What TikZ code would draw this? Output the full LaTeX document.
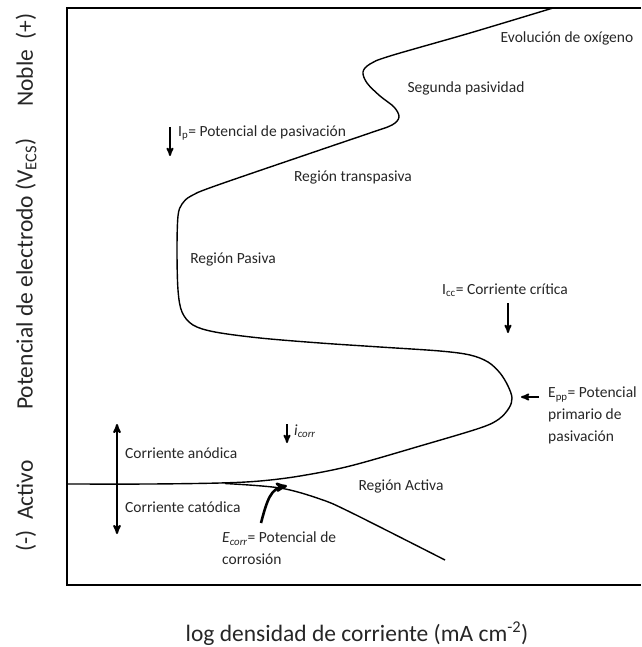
\documentclass[tikz,border=0pt]{standalone}
\usepackage{fontspec}
\setmainfont{Carlito}
\usepackage{tikz}
\usetikzlibrary{arrows,positioning}
\newcommand{\idx}[1]{\textsubscript{#1}}

\begin{document}
\begin{tikzpicture}[x=1pt,y=-1pt,>=stealth',inner sep=0pt]
  \tikzstyle{lbl}=[font=\fontsize{15.5}{22}\selectfont,text=black!85]
  \tikzstyle{axislbl}=[font=\fontsize{23.5}{28}\selectfont,text=black!85]
  \tikzstyle{curve}=[line width=1.4pt]
  \tikzstyle{pointer}=[->,line width=1.8pt]

  \useasboundingbox (0,0) rectangle (641,647);

  % Frame.
  \draw [line width=2pt] (641,8) -- (67,8) -- (67,585) -- (641,585);

  % Anodic curve.
  \draw [curve] plot [smooth,tension=0.55] coordinates {
    (67,484) (150,484) (220,483) (260,481) (300,476) (350,466) (420,446)
    (480,428) (499,419) (509,408) (512,398) (508,386) (500,373) (488,362)
    (470,355) (440,351) (380,347) (320,343) (260,338) (215,332) (193,325)
    (182,312) (178,290) (177,250) (178,216) (182,204) (191,196) (215,186)
    (320,150) (370,133) (392,125) (399,117) (394,107) (380,96) (367,83)
    (363,72) (370,64) (390,56) (470,33) (553,8)};

  % Cathodic curve.
  \draw [curve] plot [smooth,tension=0.55] coordinates {
    (225,483.5) (280,488) (320,499) (350,512) (445,560)};

  % Arrows.
  \coordinate (ip-top) at (170,127);
  \coordinate (ip-bot) at (170,156);
  \coordinate (icc-top) at (508,303);
  \coordinate (icc-bot) at (508,333);
  \coordinate (epp-from) at (539,397);
  \coordinate (epp-to) at (521,397);
  \coordinate (icorr-top) at (287,424);
  \coordinate (icorr-bot) at (287,443);
  \coordinate (dir-top) at (117,424);
  \coordinate (dir-bot) at (117,534);
  \coordinate (ecorr-from) at (261,523);
  \coordinate (ecorr-to) at (287,486);

  \draw [pointer] (ip-top) -- (ip-bot);
  \draw [pointer] (icc-top) -- (icc-bot);
  \draw [pointer] (epp-from) -- (epp-to);
  \draw [pointer] (icorr-top) -- (icorr-bot);
  \draw [<->,line width=2pt] (dir-top) -- (dir-bot);
  \draw [->,line width=2.6pt] (ecorr-from) .. controls (267,500) and (271,488) .. (ecorr-to);

  % Labels.
  \node [lbl,anchor=west] (ip) at (178,133) {I\idx{p}= Potencial de pasivación};
  \node [lbl] (trans) at (353,178) {Región transpasiva};
  \node [lbl] (seg) at (466,88) {Segunda pasividad};
  \node [lbl] (oxy) at (567,38) {Evolución de oxígeno};
  \node [lbl] (pas) at (233,259) {Región Pasiva};
  \node [lbl,anchor=west] (icc) at (442,290) {I\idx{cc}= Corriente crítica};
  \node [lbl,anchor=north west,align=left] (epp) at (548,387)
    {E\idx{pp}= Potencial\\primario de\\pasivación};
  \node [lbl,anchor=west] (icorr) at (294,431) {\textit{i\idx{corr}}};
  \node [lbl,anchor=west] (anod) at (125,453) {Corriente anódica};
  \node [lbl,anchor=west] (catod) at (125,507) {Corriente catódica};
  \node [lbl] (act) at (401,486) {Región Activa};
  \node [lbl,anchor=north west,align=left] (ecorr) at (222,532)
    {\textit{E\idx{corr}}= Potencial de\\corrosión};

  % Axis labels.
  \node [axislbl] (xlab) at (357,634) {log densidad de corriente (mA cm\textsuperscript{-2})};
  \node [axislbl,rotate=90] (ynoble) at (26,60) {Noble\ \ (+)};
  \node [axislbl,rotate=90] (ylab) at (26,274) {Potencial de electrodo (V\idx{ECS})};
  \node [axislbl,rotate=90] (yact) at (26,506) {(-)\ \ Activo};
\end{tikzpicture}
\end{document}
